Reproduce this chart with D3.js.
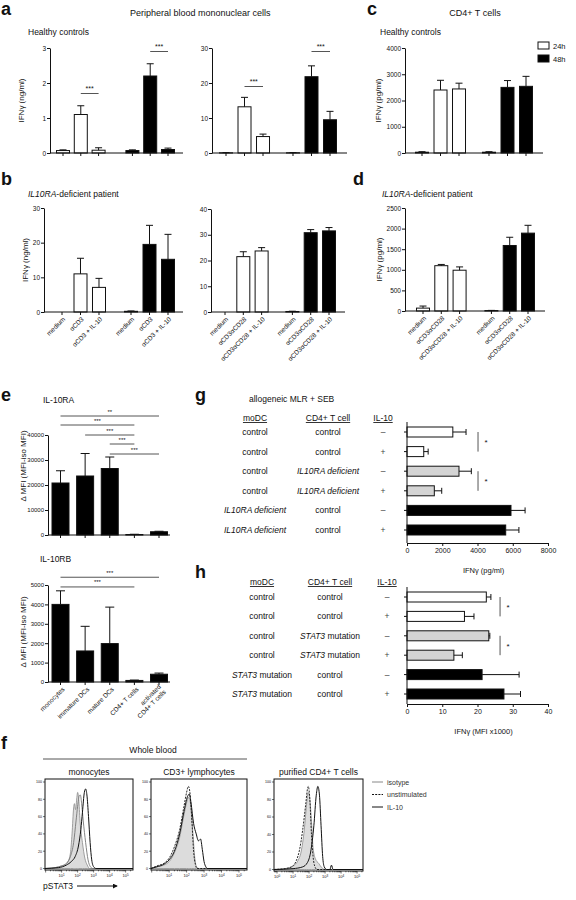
<!DOCTYPE html>
<html><head><meta charset="utf-8">
<script src="https://cdn.jsdelivr.net/npm/d3@7"></script>
<style>body{margin:0;background:#fff}svg{display:block}</style>
</head><body>
<script>
// ================= DATA =================
const groupsAD = ["24h","24h","24h","48h","48h","48h"];
const catsCD3 = ["medium","αCD3","αCD3 + IL-10","medium","αCD3","αCD3 + IL-10"];
const catsCD3CD28 = ["medium","αCD3αCD28","αCD3αCD28 + IL-10","medium","αCD3αCD28","αCD3αCD28 + IL-10"];

const a1Values = [0.07, 1.1, 0.08, 0.07, 2.2, 0.1];
const a1Errors = [0.09, 1.35, 0.15, 0.09, 2.55, 0.14];
const a1Sig = [{from:1,to:2,y:1.7,label:"***"},{from:4,to:5,y:2.9,label:"***"}];
const a2Values = [0.05, 13.2, 4.7, 0.05, 21.8, 9.5];
const a2Errors = [0.1, 15.9, 5.4, 0.1, 24.9, 11.9];
const a2Sig = [{from:1,to:2,y:19,label:"***"},{from:4,to:5,y:29,label:"***"}];
const cValues = [30, 2400, 2440, 30, 2500, 2540];
const cErrors = [50, 2770, 2660, 50, 2760, 2920];
const b1Values = [0, 11, 7.1, 0.2, 19.5, 15.2];
const b1Errors = [0, 15.5, 9.7, 0.3, 25, 22.4];
const b2Values = [0, 21.5, 23.7, 0.2, 30.8, 31.5];
const b2Errors = [0, 23.4, 25, 0.3, 32, 32.8];
const dValues = [70, 1100, 990, 10, 1590, 1890];
const dErrors = [120, 1130, 1070, 15, 1790, 2080];

const eCats = ["monocytes","immature DCs","mature DCs","CD4+ T cells","activated|CD4+ T cells"];
const e1Values = [20800, 23600, 26600, 200, 1300];
const e1Errors = [25700, 32600, 31200, 300, 1500];
const e1Sig = [{from:0,to:4,y:47600,label:"**"},{from:0,to:3,y:44000,label:"***"},{from:1,to:3,y:40000,label:"***"},{from:2,to:3,y:36400,label:"***"},{from:2,to:4,y:32400,label:"***"}];
const e2Values = [4000, 1600, 1980, 80, 400];
const e2Errors = [4700, 2870, 3860, 100, 460];
const e2Sig = [{from:0,to:4,y:5400,label:"***"},{from:0,to:3,y:4900,label:"***"}];

// "italic|plain" : part before | is italic
const gMoDC = ["control","control","control","control","IL10RA deficient|","IL10RA deficient|"];
const gCD4 = ["control","control","IL10RA deficient|","IL10RA deficient|","control","control"];
const il10 = ["–","+","–","+","–","+"];
const rowGroups = ["control","control","mutant","mutant","dc","dc"];
const gValues = [2600, 950, 2950, 1550, 5900, 5600];
const gErrors = [3350, 1200, 3650, 1970, 6700, 6350];
const gTicks = [0, 2000, 4000, 6000, 8000];
const gSig = [{from:0,to:1,x:4030},{from:2,to:3,x:4030}];
const hMoDC = ["control","control","control","control","STAT3| mutation","STAT3| mutation"];
const hCD4 = ["control","control","STAT3| mutation","STAT3| mutation","control","control"];
const hValues = [22.5, 16.3, 23.2, 13.3, 21.3, 27.5];
const hErrors = [23.8, 19, 23.5, 15.7, 31.8, 32.2];
const hTicks = [0, 10, 20, 30, 40];
const hSig = [{from:0,to:1,x:26.4},{from:2,to:3,x:26.4}];

// flow histograms: [log10 intensity, % of max]
const monoIso = [[-0.04,0],[0.6,1],[1.0,3],[1.2,4],[1.4,8],[1.55,18],[1.65,40],[1.75,70],[1.8,75],[1.87,68],[1.95,82],[2.0,88],[2.07,80],[2.15,55],[2.3,30],[2.45,12],[2.6,4],[2.75,0],[5.46,0]];
const monoUnstim = [[-0.04,0],[0.6,1],[1.0,3],[1.3,6],[1.55,14],[1.75,30],[1.9,55],[2.0,72],[2.1,84],[2.17,85],[2.25,75],[2.35,55],[2.5,30],[2.65,10],[2.8,2],[2.95,0],[5.46,0]];
const monoIL10 = [[-0.04,0],[0.8,1],[1.3,4],[1.6,8],[1.85,14],[2.05,26],[2.2,45],[2.3,65],[2.42,88],[2.5,92],[2.58,85],[2.68,60],[2.78,30],[2.88,10],[3.0,2],[3.15,0],[5.46,0]];
const cd3Iso = [[-0.04,0],[0.3,2],[0.7,4],[1.0,8],[1.3,18],[1.6,36],[1.85,62],[2.0,76],[2.1,82],[2.18,80],[2.27,66],[2.37,38],[2.47,12],[2.57,2],[2.7,0],[5.46,0]];
const cd3Unstim = [[-0.04,0],[0.3,3],[0.7,6],[1.0,12],[1.3,25],[1.6,45],[1.85,72],[2.0,88],[2.1,95],[2.2,86],[2.3,56],[2.4,20],[2.5,5],[2.6,0],[5.46,0]];
const cd3IL10 = [[-0.04,0],[0.3,2],[0.7,5],[1.0,10],[1.3,20],[1.6,40],[1.85,66],[2.05,83],[2.15,86],[2.25,76],[2.4,52],[2.55,40],[2.68,32],[2.8,34],[2.9,22],[3.0,8],[3.1,2],[3.2,0],[5.46,0]];
const cd4Iso = [[-0.19,0],[0.5,1],[1.0,4],[1.3,10],[1.5,20],[1.7,45],[1.85,75],[1.95,88],[2.05,80],[2.15,55],[2.25,25],[2.4,12],[2.6,7],[2.8,2],[3.0,0],[5.37,0]];
const cd4Unstim = [[-0.19,0],[0.5,1],[0.9,3],[1.2,10],[1.4,22],[1.6,45],[1.8,76],[1.9,92],[1.95,95],[2.05,80],[2.15,40],[2.25,15],[2.35,4],[2.5,0],[5.37,0]];
const cd4IL10 = [[-0.19,0],[1.0,1],[1.6,3],[1.9,8],[2.1,20],[2.3,50],[2.45,85],[2.55,95],[2.65,85],[2.75,50],[2.85,15],[2.95,3],[3.1,0],[3.3,0],[3.4,5],[3.5,0],[5.37,0]];
const flowLegend = ["isotype","unstimulated","IL-10"];

// ================= DRAWING =================
const FONT = "'Liberation Sans', Arial, Helvetica, sans-serif";
const INK = "#111";
const fmt = d3.format("d");
const svg = d3.select("body").append("svg").attr("width",576).attr("height",900)
  .style("font-family",FONT);

function T(x,y,s,size,o={}){
  const t = svg.append("text").attr("x",x).attr("y",y).attr("font-size",size).attr("fill",o.fill||INK).text(s);
  if(o.anchor) t.attr("text-anchor",o.anchor);
  if(o.weight) t.attr("font-weight",o.weight);
  if(o.italic) t.attr("font-style","italic");
  return t;
}
function rich(sel,s){
  const parts = s.split("|");
  if(parts.length===1){ sel.text(s); return; }
  sel.append("tspan").attr("font-style","italic").text(parts[0]);
  if(parts[1]) sel.append("tspan").text(parts[1]);
}
function styleAxis(s,size){
  s.attr("font-family",FONT).attr("font-size",size);
  s.selectAll("path,line").attr("stroke",INK);
  s.selectAll("text").attr("fill",INK);
}

function vBar(o){
  const g = svg.append("g");
  const slot = i => i + (i>=3 ? o.gap : 0);
  const x = d3.scaleLinear().domain([0,5+o.gap]).range(o.centers);
  const y = d3.scaleLinear().domain([0,o.yMax]).range([o.y0,o.y1]);
  const bw = o.bw || 13, cap = 7;
  g.selectAll("rect").data(o.values).join("rect")
    .attr("x",(d,i)=>x(slot(i))-bw/2).attr("y",d=>y(d))
    .attr("width",bw).attr("height",d=>y(0)-y(d))
    .attr("fill",(d,i)=>o.groups[i]==="24h"?"#fff":"#000")
    .attr("stroke",INK).attr("stroke-width",1);
  o.errors.forEach((e,i)=>{
    const v=o.values[i]; if(e<=v) return;
    const cx=x(slot(i));
    g.append("line").attr("x1",cx).attr("x2",cx).attr("y1",y(v)).attr("y2",y(e)).attr("stroke",INK);
    g.append("line").attr("x1",cx-cap/2).attr("x2",cx+cap/2).attr("y1",y(e)).attr("y2",y(e)).attr("stroke",INK);
  });
  g.append("g").attr("transform",`translate(${o.ax[0]},0)`)
    .call(d3.axisLeft(y).tickValues(o.yTicks).tickFormat(fmt).tickSize(3).tickSizeOuter(0).tickPadding(1))
    .call(s=>styleAxis(s,6.5));
  g.append("line").attr("x1",o.ax[0]).attr("x2",o.ax[1]).attr("y1",y(0)).attr("y2",y(0)).attr("stroke",INK);
  o.values.forEach((v,i)=>{
    const cx=x(slot(i));
    g.append("line").attr("x1",cx).attr("x2",cx).attr("y1",y(0)).attr("y2",y(0)+3).attr("stroke",INK);
    if(o.labels){
      const lx=cx+2, ly=y(0)+6;
      g.append("text").attr("x",lx).attr("y",ly).attr("font-size",6.5).attr("fill",INK)
        .attr("text-anchor","end").attr("transform",`rotate(-45,${lx},${ly})`).attr("dy","0.35em").text(o.labels[i]);
    }
  });
  (o.sig||[]).forEach(s=>{
    const xa=x(slot(s.from)), xb=x(slot(s.to));
    g.append("line").attr("x1",xa).attr("x2",xb).attr("y1",y(s.y)).attr("y2",y(s.y)).attr("stroke","#555");
    g.append("text").attr("x",(xa+xb)/2).attr("y",y(s.y)-2.5).attr("text-anchor","middle").attr("font-size",7).attr("fill",INK).text(s.label);
  });
  if(o.ylabel){
    const cy=(o.y0+o.y1)/2;
    g.append("text").attr("x",o.ylabelX).attr("y",cy).attr("text-anchor","middle").attr("font-size",8)
      .attr("fill",INK).attr("transform",`rotate(-90,${o.ylabelX},${cy})`).text(o.ylabel);
  }
}

function eBar(o){
  const g = svg.append("g");
  const x = d3.scalePoint().domain(d3.range(o.values.length)).range(o.centers);
  const y = d3.scaleLinear().domain([0,o.yMax]).range([o.y0,o.y1]);
  const bw=17, cap=9;
  g.selectAll("rect").data(o.values).join("rect")
    .attr("x",(d,i)=>x(i)-bw/2).attr("y",d=>y(d)).attr("width",bw).attr("height",d=>y(0)-y(d))
    .attr("fill","#000").attr("stroke",INK);
  o.errors.forEach((e,i)=>{
    const v=o.values[i]; if(e<=v) return;
    g.append("line").attr("x1",x(i)).attr("x2",x(i)).attr("y1",y(v)).attr("y2",y(e)).attr("stroke",INK);
    g.append("line").attr("x1",x(i)-cap/2).attr("x2",x(i)+cap/2).attr("y1",y(e)).attr("y2",y(e)).attr("stroke",INK);
  });
  g.append("g").attr("transform",`translate(${o.ax[0]},0)`)
    .call(d3.axisLeft(y).tickValues(o.yTicks).tickFormat(fmt).tickSize(3).tickSizeOuter(0).tickPadding(1))
    .call(s=>styleAxis(s,6));
  g.append("line").attr("x1",o.ax[0]).attr("x2",o.ax[1]).attr("y1",y(0)).attr("y2",y(0)).attr("stroke",INK);
  o.values.forEach((v,i)=>{
    g.append("line").attr("x1",x(i)).attr("x2",x(i)).attr("y1",y(0)).attr("y2",y(0)+3).attr("stroke",INK);
  });
  if(o.labels){
    o.labels.forEach((lab,i)=>{
      const lx=x(i)+3, ly=y(0)+6;
      const t=g.append("text").attr("x",lx).attr("y",ly).attr("font-size",6.5).attr("fill",INK)
        .attr("text-anchor","end").attr("transform",`rotate(-45,${lx},${ly})`);
      const parts=lab.split("|");
      if(parts.length===1) t.attr("dy","0.35em").text(lab);
      else { t.append("tspan").attr("x",lx).attr("dy","-0.15em").text(parts[0]);
             t.append("tspan").attr("x",lx).attr("dy","1.1em").text(parts[1]); }
    });
  }
  o.sig.forEach(s=>{
    g.append("line").attr("x1",x(s.from)).attr("x2",x(s.to)).attr("y1",y(s.y)).attr("y2",y(s.y)).attr("stroke","#555");
    g.append("text").attr("x",(x(s.from)+x(s.to))/2).attr("y",y(s.y)-2.5).attr("text-anchor","middle")
      .attr("font-size",6).attr("fill",INK).text(s.label);
  });
  const cy=o.ylabelY;
  g.append("text").attr("x",o.ylabelX).attr("y",cy).attr("text-anchor","middle").attr("font-size",8).attr("fill",INK)
    .attr("transform",`rotate(-90,${o.ylabelX},${cy})`).text("Δ MFI (MFI-iso MFI)");
}

function hBar(o){
  const g = svg.append("g");
  const y = d3.scalePoint().domain(d3.range(6)).range(o.rows);
  const x = d3.scaleLinear().domain([0,o.xMax]).range([o.x0,o.x1]);
  const bh=10, cap=6;
  const fill = {control:"#fff", mutant:"#d4d4d4", dc:"#000"};
  [["moDC",o.cols[0]],["CD4+ T cell",o.cols[1]],["IL-10",o.cols[2]]].forEach(([h,cx])=>{
    g.append("text").attr("x",cx).attr("y",o.headY).attr("text-anchor","middle").attr("font-size",8.5)
      .attr("fill",INK).attr("text-decoration","underline").text(h);
  });
  [o.col1,o.col2].forEach((col,c)=>col.forEach((s,i)=>{
    rich(g.append("text").attr("x",o.cols[c]).attr("y",y(i)+3).attr("text-anchor","middle").attr("font-size",8.5).attr("fill",INK), s);
  }));
  il10.forEach((s,i)=>{ g.append("text").attr("x",o.cols[2]).attr("y",y(i)+3).attr("text-anchor","middle").attr("font-size",8.5).attr("fill","#444").text(s); });
  g.selectAll("rect").data(o.values).join("rect")
    .attr("x",x(0)).attr("y",(d,i)=>y(i)-bh/2).attr("width",d=>x(d)-x(0)).attr("height",bh)
    .attr("fill",(d,i)=>fill[rowGroups[i]]).attr("stroke",INK);
  o.errors.forEach((e,i)=>{
    const v=o.values[i];
    g.append("line").attr("x1",x(v)).attr("x2",x(e)).attr("y1",y(i)).attr("y2",y(i)).attr("stroke",INK);
    g.append("line").attr("x1",x(e)).attr("x2",x(e)).attr("y1",y(i)-cap/2).attr("y2",y(i)+cap/2).attr("stroke",INK);
  });
  g.append("line").attr("x1",o.x0).attr("x2",o.x0).attr("y1",o.axisTop).attr("y2",o.axisY).attr("stroke",INK);
  y.domain().forEach(i=>{ g.append("line").attr("x1",o.x0-3).attr("x2",o.x0).attr("y1",y(i)).attr("y2",y(i)).attr("stroke",INK); });
  g.append("g").attr("transform",`translate(0,${o.axisY})`)
    .call(d3.axisBottom(x).tickValues(o.ticks).tickFormat(fmt).tickSize(3).tickSizeOuter(0).tickPadding(2))
    .call(s=>styleAxis(s,7));
  g.append("text").attr("x",(o.x0+o.x1)/2+6).attr("y",o.axisY+30).attr("text-anchor","middle").attr("font-size",7.5).attr("fill",INK).text(o.xlabel);
  o.sig.forEach(s=>{
    const xs=x(s.x);
    g.append("line").attr("x1",xs).attr("x2",xs).attr("y1",y(s.from)).attr("y2",y(s.to)).attr("stroke","#555");
    g.append("text").attr("x",xs+8).attr("y",(y(s.from)+y(s.to))/2+3).attr("text-anchor","middle").attr("font-size",8).attr("fill",INK).text("*");
  });
}

function hist(o){
  const [bx0,by0,bx1,by1]=o.box;
  const g=svg.append("g");
  const x=d3.scaleLinear().domain(o.dom).range([bx0,bx1]);
  const y=d3.scaleLinear().domain([0,100]).range([by1-1.5,by0+3]);
  const id="clip"+o.id;
  g.append("clipPath").attr("id",id).append("rect").attr("x",bx0).attr("y",by0).attr("width",bx1-bx0).attr("height",by1-by0);
  const cg=g.append("g").attr("clip-path",`url(#${id})`);
  const area=d3.area().x(d=>x(d[0])).y0(y(0)).y1(d=>y(d[1])).curve(d3.curveMonotoneX);
  const line=d3.line().x(d=>x(d[0])).y(d=>y(d[1])).curve(d3.curveMonotoneX);
  cg.append("path").datum(o.iso).attr("d",area).attr("fill","#dcdcdc").attr("stroke","#8a8a8a").attr("stroke-width",0.8);
  cg.append("path").datum(o.unstim).attr("d",line).attr("fill","none").attr("stroke",o.unstimColor||"#111").attr("stroke-width",0.9).attr("stroke-dasharray",o.unstimDash||"2,1.2");
  cg.append("path").datum(o.il10).attr("d",line).attr("fill","none").attr("stroke","#111").attr("stroke-width",1);
  g.append("rect").attr("x",bx0).attr("y",by0).attr("width",bx1-bx0).attr("height",by1-by0).attr("fill","none").attr("stroke",INK).attr("stroke-width",1);
  [0,20,40,60,80,100].forEach(v=>{
    g.append("line").attr("x1",bx0-2).attr("x2",bx0).attr("y1",y(v)).attr("y2",y(v)).attr("stroke",INK).attr("stroke-width",0.6);
    g.append("text").attr("x",bx0-3).attr("y",y(v)+1.3).attr("text-anchor","end").attr("font-size",3.6).attr("fill",INK).text(v);
  });
  for(let dec=Math.floor(o.dom[0]); dec<=Math.ceil(o.dom[1]); dec++){
    for(let k=1;k<10;k++){
      const lv=dec+Math.log10(k);
      if(lv<o.dom[0]||lv>o.dom[1]) continue;
      g.append("line").attr("x1",x(lv)).attr("x2",x(lv)).attr("y1",by1).attr("y2",by1+(k===1?2.5:1.3)).attr("stroke",INK).attr("stroke-width",0.6);
    }
  }
  o.tickDecades.forEach(dec=>{
    const t=g.append("text").attr("x",x(dec)).attr("y",by1+7).attr("text-anchor","middle").attr("font-size",4).attr("fill",INK);
    t.append("tspan").text("10"); t.append("tspan").attr("dy",-1.5).attr("font-size",3).text(dec);
  });
  g.append("text").attr("x",(bx0+bx1)/2).attr("y",by0-4).attr("text-anchor","middle").attr("font-size",8.5).attr("fill",INK).text(o.title);
}

// ---------- panel letters & titles ----------
T(1,15,"a",18,{weight:"bold"});
T(367,15,"c",18,{weight:"bold"});
T(1,185,"b",18,{weight:"bold"});
T(353,185,"d",18,{weight:"bold"});
T(1,401,"e",18,{weight:"bold"});
T(195,401,"g",18,{weight:"bold"});
T(195,578,"h",18,{weight:"bold"});
T(1,749,"f",18,{weight:"bold"});

T(130,16,"Peripheral blood mononuclear cells",9);
T(28,35,"Healthy controls",8.5);
T(475,16,"CD4+ T cells",9,{anchor:"middle"});
T(380,35,"Healthy controls",8.5);
rich(svg.append("text").attr("x",28).attr("y",197).attr("font-size",8.5).attr("fill",INK),"IL10RA|-deficient patient");
rich(svg.append("text").attr("x",382).attr("y",197).attr("font-size",8.5).attr("fill",INK),"IL10RA|-deficient patient");

// legend c
[["24h","#fff",42],["48h","#000",55]].forEach(([lab,f,yy])=>{
  svg.append("rect").attr("x",538).attr("y",yy).attr("width",11).attr("height",7).attr("fill",f).attr("stroke",INK);
  T(553,yy+6.5,lab,7.5);
});

vBar({values:a1Values,errors:a1Errors,groups:groupsAD,gap:0.9,centers:[63,168],ax:[50,183],y0:153,y1:48,yMax:3,yTicks:[0,1,2,3],sig:a1Sig,ylabel:"IFNγ (ng/ml)",ylabelX:24});
vBar({values:a2Values,errors:a2Errors,groups:groupsAD,gap:0.62,centers:[226,330],ax:[212,347],y0:153,y1:48,yMax:30,yTicks:[0,10,20,30],sig:a2Sig});
vBar({values:cValues,errors:cErrors,groups:groupsAD,gap:0.62,centers:[422,526],ax:[405,543],y0:153,y1:48,yMax:4000,yTicks:[0,1000,2000,3000,4000],ylabel:"IFNγ (pg/ml)",ylabelX:381});
vBar({values:b1Values,errors:b1Errors,groups:groupsAD,gap:0.73,centers:[62,168],ax:[44,183],y0:312,y1:208,yMax:30,yTicks:[0,10,20,30],labels:catsCD3,ylabel:"IFNγ (ng/ml)",ylabelX:28});
vBar({values:b2Values,errors:b2Errors,groups:groupsAD,gap:0.68,centers:[225,329],ax:[211,345],y0:312,y1:209,yMax:40,yTicks:[0,10,20,30,40],labels:catsCD3CD28});
vBar({values:dValues,errors:dErrors,groups:groupsAD,gap:0.74,centers:[423,528],ax:[405,545],y0:311,y1:208,yMax:2500,yTicks:[0,500,1000,1500,2000,2500],labels:catsCD3CD28,ylabel:"IFNγ (pg/ml)",ylabelX:382});

// ---------- e ----------
T(43,403,"IL-10RA",8.5);
T(40,562,"IL-10RB",8.5);
eBar({values:e1Values,errors:e1Errors,centers:[60.5,159],ax:[48,170],y0:535,y1:435,yMax:40000,yTicks:[0,10000,20000,30000,40000],sig:e1Sig,ylabelX:26,ylabelY:466});
eBar({values:e2Values,errors:e2Errors,centers:[60.5,159],ax:[48,170],y0:682,y1:585,yMax:5000,yTicks:[0,1000,2000,3000,4000,5000],sig:e2Sig,labels:eCats,ylabelX:26,ylabelY:632});

// ---------- g / h ----------
T(249,402,"allogeneic MLR + SEB",8.5);
hBar({values:gValues,errors:gErrors,col1:gMoDC,col2:gCD4,rows:[432,530],cols:[255,328,383],headY:421,
  x0:407,x1:548,xMax:8000,ticks:gTicks,axisY:543,axisTop:422,xlabel:"IFNγ (pg/ml)",sig:gSig});
hBar({values:hValues,errors:hErrors,col1:hMoDC,col2:hCD4,rows:[597,694],cols:[262,330,387],headY:585,
  x0:407,x1:548,xMax:40,ticks:hTicks,axisY:704,axisTop:587,xlabel:"IFNγ (MFI x1000)",sig:hSig});

// ---------- f ----------
T(153,753,"Whole blood",8.5,{anchor:"middle"});
svg.append("line").attr("x1",43).attr("x2",247).attr("y1",759).attr("y2",759).attr("stroke","#555");
hist({id:"m",box:[45,779,133,870],dom:[-0.04,5.46],tickDecades:[1,2,3,4,5],iso:monoIso,unstim:monoUnstim,il10:monoIL10,title:"monocytes",unstimColor:"#777",unstimDash:"none"});
hist({id:"l",box:[151,779,247,870],dom:[-0.04,5.46],tickDecades:[1,2,3,4,5],iso:cd3Iso,unstim:cd3Unstim,il10:cd3IL10,title:"CD3+ lymphocytes"});
hist({id:"t",box:[274,779,363,871],dom:[-0.19,5.37],tickDecades:[0,1,2,3,4,5],iso:cd4Iso,unstim:cd4Unstim,il10:cd4IL10,title:"purified CD4+ T cells"});
[[flowLegend[0],"#888","none"],[flowLegend[1],"#111","2,1.2"],[flowLegend[2],"#111","none"]].forEach(([lab,c,dash],i)=>{
  const yy=782+i*12.5;
  svg.append("line").attr("x1",372).attr("x2",383).attr("y1",yy).attr("y2",yy).attr("stroke",c).attr("stroke-dasharray",dash);
  T(387,yy+2.5,lab,7,{fill:"#333"});
});
T(43,889,"pSTAT3",8.5);
svg.append("defs").append("marker").attr("id","arr").attr("viewBox","0 0 6 6").attr("refX",5).attr("refY",3)
  .attr("markerWidth",5).attr("markerHeight",5).attr("orient","auto")
  .append("path").attr("d","M0,0L6,3L0,6Z").attr("fill",INK);
svg.append("line").attr("x1",77).attr("x2",117).attr("y1",886).attr("y2",886).attr("stroke",INK).attr("marker-end","url(#arr)");
</script>
</body></html>
